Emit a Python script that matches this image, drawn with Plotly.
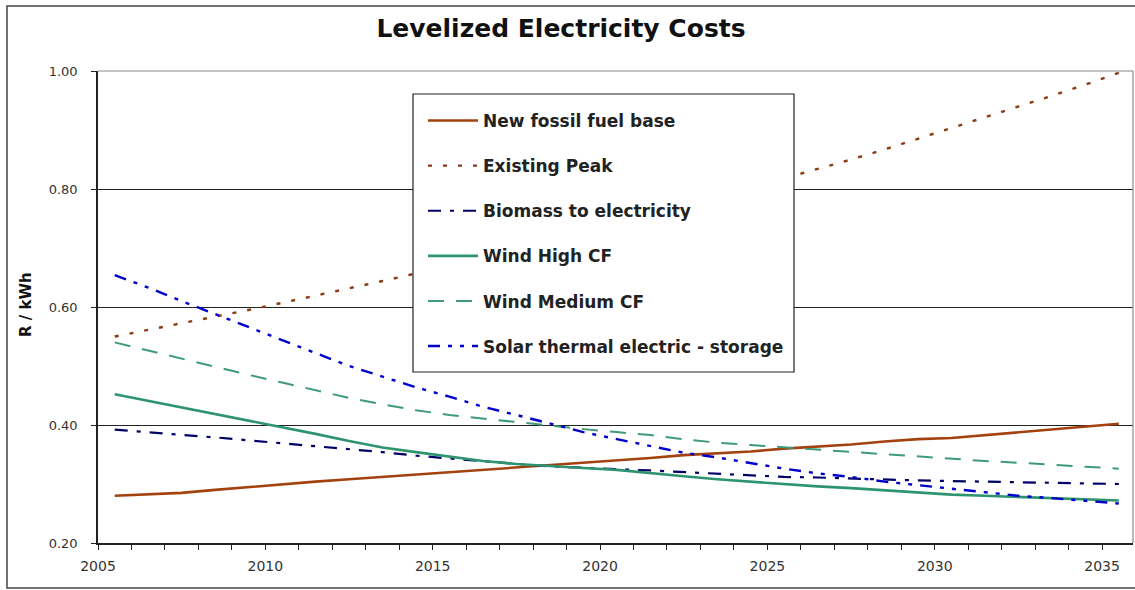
import plotly.graph_objects as go

# Levelized electricity costs (R/kWh), 2005-2035
years = list(range(2005, 2036))

new_fossil_base = [0.280, 0.282, 0.285, 0.290, 0.295, 0.300, 0.304, 0.308, 0.312, 0.316,
                   0.320, 0.323, 0.327, 0.332, 0.336, 0.340, 0.344, 0.349, 0.352, 0.355,
                   0.360, 0.363, 0.367, 0.372, 0.376, 0.378, 0.383, 0.388, 0.393, 0.397,
                   0.402]
existing_peak = [0.550, 0.561, 0.572, 0.584, 0.595, 0.607, 0.619, 0.632, 0.644, 0.657,
                 0.670, 0.684, 0.698, 0.712, 0.726, 0.740, 0.755, 0.770, 0.786, 0.801,
                 0.817, 0.834, 0.850, 0.867, 0.885, 0.903, 0.921, 0.939, 0.958, 0.977,
                 0.997]
biomass = [0.392, 0.388, 0.384, 0.379, 0.374, 0.369, 0.365, 0.360, 0.354, 0.348,
           0.343, 0.338, 0.334, 0.330, 0.327, 0.325, 0.323, 0.320, 0.317, 0.314,
           0.312, 0.311, 0.309, 0.307, 0.306, 0.305, 0.304, 0.303, 0.302, 0.301,
           0.300]
wind_high_cf = [0.452, 0.441, 0.430, 0.419, 0.408, 0.397, 0.385, 0.373, 0.362, 0.354,
                0.346, 0.339, 0.334, 0.330, 0.327, 0.324, 0.318, 0.313, 0.308, 0.304,
                0.299, 0.296, 0.293, 0.289, 0.285, 0.282, 0.280, 0.278, 0.276, 0.274,
                0.272]
wind_medium_cf = [0.540, 0.526, 0.512, 0.498, 0.485, 0.472, 0.459, 0.446, 0.435, 0.425,
                  0.417, 0.411, 0.404, 0.398, 0.393, 0.388, 0.383, 0.376, 0.370, 0.366,
                  0.362, 0.358, 0.354, 0.350, 0.346, 0.342, 0.339, 0.336, 0.333, 0.330,
                  0.326]
solar_storage = [0.654, 0.633, 0.610, 0.588, 0.567, 0.545, 0.522, 0.500, 0.482, 0.464,
                 0.448, 0.431, 0.417, 0.402, 0.388, 0.376, 0.364, 0.353, 0.345, 0.335,
                 0.326, 0.318, 0.312, 0.304, 0.298, 0.292, 0.286, 0.280, 0.276, 0.272,
                 0.267]

label_years = [2005, 2010, 2015, 2020, 2025, 2030, 2035]
y_ticks = [0.2, 0.4, 0.6, 0.8, 1.0]

series = [
    ("New fossil fuel base", new_fossil_base, "#A3410F", 2.6, "solid"),
    ("Existing Peak", existing_peak, "#8B3A12", 2.4, "4px,11px"),
    ("Biomass to electricity", biomass, "#000066", 2.2, "13px,9px,4px,9px"),
    ("Wind High CF", wind_high_cf, "#2E9470", 2.6, "solid"),
    ("Wind Medium CF", wind_medium_cf, "#3E9A78", 2.0, "16px,12px"),
    ("Solar thermal electric - storage", solar_storage, "#0000CC", 2.4, "12px,8px,4px,8px,4px,8px"),
]

W, H = 1135, 590
L, R, T, B = 98, 1133, 71, 543


def px_x(p):
    return (p - L) / (R - L)


def px_y(p):
    return (B - p) / (B - T)


fig = go.Figure()
for i, (name, vals, color, width, dash) in enumerate(series):
    fig.add_trace(go.Scatter(
        x=years, y=vals, name=name, mode="lines",
        line=dict(color=color, width=width, dash=dash),
        legendgroup=f"g{i}",
    ))

FONT = "DejaVu Sans"

fig.update_layout(
    width=W, height=H,
    margin=dict(l=L, r=W - R, t=T, b=H - B),
    paper_bgcolor="white", plot_bgcolor="white",
    showlegend=True,
    title=dict(text="<b>Levelized Electricity Costs</b>",
               font=dict(family=FONT, size=25, color="#111111"),
               x=561 / W, xref="container", xanchor="center",
               y=1 - 28 / H, yref="container", yanchor="middle"),
    legend=dict(
        x=px_x(423), y=px_y(103), xanchor="left", yanchor="top",
        xref="paper", yref="paper",
        bgcolor="rgba(0,0,0,0)", borderwidth=0,
        font=dict(family=FONT, size=17, color="#222222", weight="bold"),
        tracegroupgap=20, itemwidth=50, traceorder="grouped",
    ),
    xaxis=dict(
        range=[2004.5, 2004.5 + (R - L) / 33.47],
        tickvals=[y - 0.5 for y in label_years],
        ticktext=[str(y) for y in label_years],
        ticks="outside", ticklen=5, tickcolor="#222222",
        minor=dict(dtick=1, tick0=2004.5, ticks="outside", ticklen=5, tickcolor="#222222"),
        showgrid=False, zeroline=False,
        showline=True, linecolor="#222222", linewidth=1.5,
        tickfont=dict(family=FONT, size=14, color="#333333"),
        ticklabelstandoff=4,
    ),
    yaxis=dict(
        range=[0.2, 1.0],
        tickvals=y_ticks, tickformat=".2f",
        ticks="outside", ticklen=5, tickcolor="#222222",
        showgrid=True, gridcolor="#222222", gridwidth=1,
        zeroline=False,
        showline=True, linecolor="#222222", linewidth=1.5,
        tickfont=dict(family=FONT, size=13, color="#333333"),
        ticklabelstandoff=11,
    ),
    annotations=[
        dict(text="<b>R / kWh</b>", textangle=-90,
             x=px_x(26), y=px_y(305), xref="paper", yref="paper",
             xanchor="center", yanchor="middle", showarrow=False,
             font=dict(family=FONT, size=15, color="#111111")),
    ],
    shapes=[
        # outer chart frame
        dict(type="rect", xref="paper", yref="paper",
             x0=px_x(7), x1=px_x(1140), y0=px_y(588), y1=px_y(6),
             line=dict(color="#444444", width=1.5), layer="below"),
        # top and right edges of the plot area
        dict(type="line", xref="paper", yref="paper", x0=0, x1=1, y0=1, y1=1,
             line=dict(color="#8a8a8a", width=1.2), layer="above"),
        dict(type="line", xref="paper", yref="paper", x0=1, x1=1, y0=0, y1=1,
             line=dict(color="#8a8a8a", width=1.2), layer="above"),
        # legend box
        dict(type="rect", xref="paper", yref="paper",
             x0=px_x(413), x1=px_x(794), y0=px_y(372), y1=px_y(94),
             line=dict(color="#222222", width=1.2), fillcolor="white", layer="above"),
    ],
)

fig.write_html("out.html")
